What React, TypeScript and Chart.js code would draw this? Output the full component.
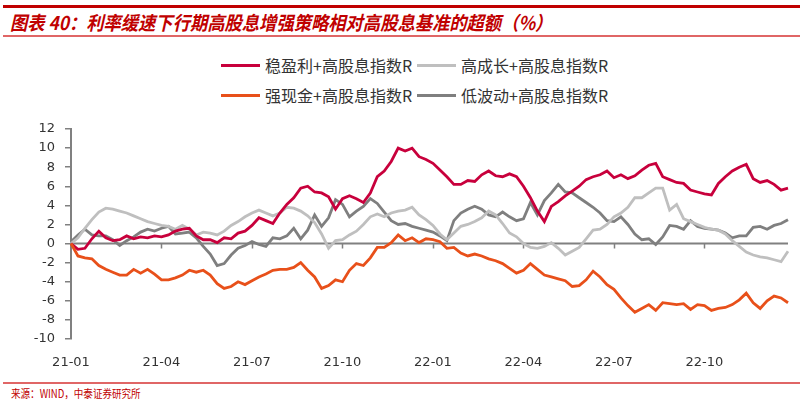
import React, { useEffect, useRef } from 'react';
import { Chart, registerables } from 'chart.js';

Chart.register(...registerables);

const tickLabels = ['21-01', '21-04', '21-07', '21-10', '22-01', '22-04', '22-07', '22-10'];
const weeksPerTick = 13;
const weekCount = 104;
const categories: string[] = Array.from({ length: weekCount }, (_, i) =>
  i % weeksPerTick === 0 ? tickLabels[i / weeksPerTick] : ''
);

const seriesNames = ['稳盈利+高股息指数R', '高成长+高股息指数R', '强现金+高股息指数R', '低波动+高股息指数R'];
const seriesColors = ['#C8003C', '#BFBFBF', '#E8501A', '#7F7F7F'];

const stableProfit = [
  0, -0.6, -0.5, 0.5, 1.3, 0.6, 0.3, 0.4, 0.8, 0.5, 0.7, 0.6, 0.8,
  0.7, 0.9, 1.3, 1.5, 1.6, 0.8, 0.4, 0.4, 0.1, 0.6, 0.5, 1.1, 1.3,
  1.9, 2.7, 2.4, 2.1, 3.2, 4.1, 4.8, 5.8, 6.0, 5.4, 5.3, 4.9, 3.6,
  4.7, 5.0, 4.7, 4.3, 5.3, 7.0, 7.6, 8.6, 10.0, 9.7, 10.0, 9.1, 8.8,
  8.4, 7.7, 7.0, 6.2, 6.2, 6.6, 6.5, 7.2, 7.6, 7.1, 7.0, 7.3, 7.0,
  6.0, 4.8, 3.4, 2.3, 3.9, 4.4, 5.0, 5.5, 6.0, 6.7, 7.0, 7.2, 7.6,
  6.9, 7.2, 6.8, 7.1, 7.7, 8.2, 8.4, 7.0, 6.7, 6.4, 6.3, 5.6, 5.4,
  5.2, 5.1, 6.3, 7.0, 7.6, 8.0, 8.3, 6.8, 6.4, 6.6, 6.2, 5.6, 5.8,
];

const highGrowth = [
  0, 0.6, 1.6, 2.5, 3.3, 3.7, 3.6, 3.4, 3.2, 2.9, 2.6, 2.3, 2.1,
  1.9, 1.8, 1.5, 1.9, 1.5, 0.9, 1.2, 1.1, 0.9, 1.3, 1.9, 2.3, 2.8,
  3.2, 3.5, 3.2, 2.9, 3.2, 3.8, 3.7, 3.4, 2.9, 2.2, 1.0, -0.5, 0.3,
  0.4, 0.9, 1.3, 2.0, 2.8, 3.1, 2.8, 3.2, 3.4, 3.5, 3.8, 3.0, 2.5,
  1.9, 1.0, 0.4, 1.1, 1.8, 2.0, 2.3, 2.7, 3.4, 3.0, 2.1, 1.1, 0.7,
  0.0, -0.4, -0.5, -0.3, 0.1, -0.5, -1.2, -0.8, -0.4, 0.5, 1.4, 1.5, 2.0,
  2.8, 3.2, 3.8, 4.8, 4.8, 5.3, 5.8, 5.8, 3.5, 4.1, 2.6, 2.3, 2.0,
  1.7, 1.5, 1.4, 1.0, 0.3, -0.3, -0.9, -1.2, -1.4, -1.5, -1.7, -1.9, -0.8,
];

const strongCash = [
  0, -1.3, -1.5, -1.6, -2.3, -2.7, -3.0, -3.3, -3.3, -2.7, -3.1, -2.7, -3.2,
  -3.8, -3.8, -3.6, -3.3, -2.8, -3.0, -2.8, -3.3, -4.2, -4.7, -4.5, -4.0, -4.3,
  -3.9, -3.5, -3.2, -2.8, -2.7, -2.7, -2.5, -2.0, -2.8, -3.5, -4.7, -4.4, -3.8,
  -4.0, -2.8, -2.1, -2.3, -1.5, -0.4, -0.4, 0.1, 0.9, 0.3, 0.6, 0.1, 0.5,
  0.4, 0.2, -0.5, -0.4, -1.0, -1.3, -1.1, -1.3, -1.6, -1.8, -2.1, -2.6, -3.1,
  -2.8, -2.1, -2.7, -3.3, -3.5, -3.7, -3.9, -4.5, -4.4, -3.8, -2.9, -3.5, -4.3,
  -4.8, -5.7, -6.5, -7.2, -6.8, -6.4, -7.0, -6.2, -6.3, -6.4, -6.3, -6.9, -6.4,
  -6.5, -7.0, -6.8, -6.7, -6.4, -5.9, -5.2, -6.2, -6.8, -6.0, -5.5, -5.7, -6.2,
];

const lowVolatility = [
  0.2, 0.9, 1.5, 0.9, 0.8, 0.8, 0.4, -0.2, 0.3, 0.7, 1.2, 1.5, 1.3,
  1.6, 1.8, 1.0, 1.1, 1.2, 0.6, -0.3, -1.1, -2.3, -2.1, -1.2, -0.5, -0.2,
  0.2, -0.1, -0.3, 0.6, 0.5, 0.8, 1.6, 0.5, 1.4, 3.0, 1.8, 2.7, 4.6,
  4.1, 2.8, 3.4, 3.9, 4.7, 4.2, 3.3, 2.4, 2.0, 2.1, 1.8, 1.6, 1.4,
  1.2, 0.8, 0.3, 2.4, 3.2, 3.6, 3.9, 3.6, 3.0, 2.8, 3.3, 2.8, 2.4,
  2.6, 4.3, 3.0, 4.5, 5.3, 6.2, 5.4, 5.3, 4.8, 4.3, 3.8, 3.2, 2.4,
  2.3, 2.8, 2.0, 1.0, 0.4, 0.5, -0.1, 0.7, 1.9, 1.8, 1.5, 2.4, 1.8,
  1.6, 1.5, 1.4, 1.1, 0.6, 0.8, 0.8, 1.7, 1.8, 1.5, 1.9, 2.1, 2.5,
];

const seriesValues = [stableProfit, highGrowth, strongCash, lowVolatility];

const zeroLinePlugin = {
  id: 'zeroLine',
  beforeDatasetsDraw(chart: any) {
    const { ctx, chartArea, scales } = chart;
    const x = scales.x;
    const y = scales.y;
    const y0 = y.getPixelForValue(0);
    ctx.save();
    ctx.strokeStyle = '#808080';
    ctx.lineWidth = 2;
    ctx.beginPath();
    ctx.moveTo(chartArea.left, y0);
    ctx.lineTo(chartArea.right, y0);
    ctx.stroke();
    ctx.lineWidth = 1.5;
    ctx.beginPath();
    categories.forEach((c, i) => {
      if (c && i > 0) {
        const px = Math.round(x.getPixelForValue(i)) + 0.5;
        ctx.moveTo(px, y0);
        ctx.lineTo(px, y0 + 5);
      }
    });
    ctx.stroke();
    ctx.restore();
  },
};

const legendLeft = [221, 417];
const legendTop = [65, 95];

export default function App() {
  const canvasRef = useRef<HTMLCanvasElement | null>(null);

  useEffect(() => {
    if (!canvasRef.current) return;
    const chart = new Chart(canvasRef.current, {
      type: 'line',
      data: {
        labels: categories,
        datasets: seriesNames.map((name, k) => ({
          label: name,
          data: seriesValues[k],
          borderColor: seriesColors[k],
          backgroundColor: seriesColors[k],
          borderWidth: 2.8,
          pointRadius: 0,
          tension: 0,
          order: [1, 2, 0, 3][k],
        })),
      },
      options: {
        animation: false,
        responsive: false,
        devicePixelRatio: 1,
        layout: { padding: { left: 0, right: 15, top: 19, bottom: 4 } },
        plugins: {
          legend: { display: false },
          tooltip: { enabled: false },
        },
        scales: {
          x: {
            type: 'category',
            offset: false,
            grid: { display: false },
            border: { display: false },
            ticks: {
              autoSkip: false,
              maxRotation: 0,
              minRotation: 0,
              padding: 8,
              color: '#333333',
              font: { family: 'DejaVu Sans', size: 13 },
            },
            afterFit: (s: any) => {
              s.height = 27;
            },
          },
          y: {
            min: -10,
            max: 12,
            ticks: {
              stepSize: 2,
              padding: 10,
              color: '#333333',
              font: { family: 'DejaVu Sans', size: 13 },
            },
            grid: {
              drawOnChartArea: false,
              drawTicks: true,
              tickLength: 6,
              color: '#808080',
              lineWidth: 1.5,
            },
            border: { display: true, color: '#808080', width: 2 },
            afterFit: (s: any) => {
              s.width = 71;
            },
          },
        },
      },
      plugins: [zeroLinePlugin],
    });
    return () => chart.destroy();
  }, []);

  return (
    <div
      style={{
        position: 'fixed',
        left: 0,
        top: 0,
        width: 803,
        height: 406,
        background: '#ffffff',
        overflow: 'hidden',
      }}
    >
      <div style={{ position: 'absolute', left: 3, top: 5, width: 797, height: 2.5, background: '#C00000' }} />
      <div
        style={{
          position: 'absolute',
          left: 10,
          top: 9,
          whiteSpace: 'nowrap',
          fontFamily: '"Noto Sans CJK SC", sans-serif',
          fontSize: 19,
          fontWeight: 'bold',
          fontStyle: 'italic',
          color: '#C00000',
          transform: 'scaleX(0.91)',
          transformOrigin: 'left top',
          lineHeight: '26px',
        }}
      >
        图表 40：利率缓速下行期高股息增强策略相对高股息基准的超额（%）
      </div>
      <div style={{ position: 'absolute', left: 3, top: 35, width: 797, height: 1.5, background: '#E06666' }} />

      {seriesNames.map((name, k) => (
        <div
          key={name}
          style={{
            position: 'absolute',
            left: legendLeft[k % 2],
            top: legendTop[Math.floor(k / 2)] - 12,
            height: 24,
            display: 'flex',
            alignItems: 'center',
            whiteSpace: 'nowrap',
          }}
        >
          <div style={{ width: 39, height: 3, background: seriesColors[k] }} />
          <span
            style={{
              marginLeft: 5,
              fontFamily: '"Noto Sans CJK SC", sans-serif',
              fontSize: 16,
              color: '#333333',
              lineHeight: '24px',
            }}
          >
            {name}
          </span>
        </div>
      ))}

      <canvas
        ref={canvasRef}
        width={803}
        height={260}
        style={{ position: 'absolute', left: 0, top: 110, width: 803, height: 260 }}
      />

      <div style={{ position: 'absolute', left: 3, top: 382, width: 797, height: 1.5, background: '#E06666' }} />
      <div
        style={{
          position: 'absolute',
          left: 11,
          top: 384,
          whiteSpace: 'nowrap',
          fontFamily: '"Noto Sans CJK SC", serif',
          fontSize: 11.5,
          color: '#C00000',
          transform: 'scaleX(0.83)',
          transformOrigin: 'left top',
          lineHeight: '18px',
        }}
      >
        来源：WIND，中泰证券研究所
      </div>
    </div>
  );
}
